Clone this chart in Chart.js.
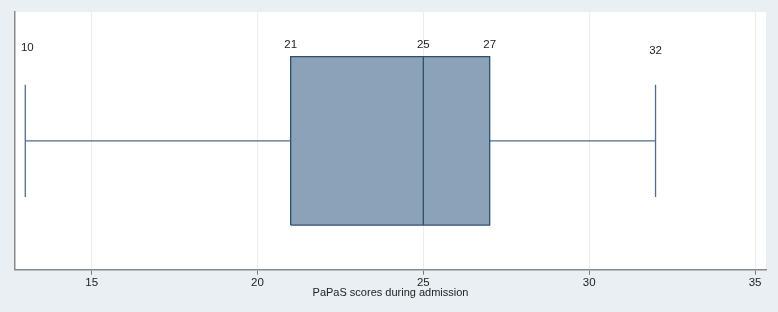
<!DOCTYPE html>
<html>
<head>
<meta charset="utf-8">
<script src="https://cdn.jsdelivr.net/npm/chart.js@4/dist/chart.umd.min.js"></script>
<style>
  html, body { margin: 0; padding: 0; background: #e9eff2; }
  #wrap { width: 778px; height: 312px; }
</style>
</head>
<body>
<div id="wrap"><canvas id="boxplot"></canvas></div>
<script>
// five-number summary as drawn on the plot
const statNames = ["min", "q1", "median", "q3", "max"];
const statValues = [13, 21, 25, 27, 32];
const statLabels = ["10", "21", "25", "27", "32"];
const xTicks = [15, 20, 25, 30, 35];
const axisTitle = "PaPaS scores during admission";

// layout of the box inside the plot (y scale runs 0..1)
const mid = 0.5;
const boxHalf = 0.327;
const capHalf = 0.218;
const labelTop = [47.5, 45, 45, 45, 50.5];

const stat = (n) => statValues[statNames.indexOf(n)];
const lineColor = "#4f6d8b";
const boxBorder = "#2f4f70";
const fontFamily = "'Liberation Sans', Arial, sans-serif";

const lineDs = (pts, color, order) => ({
  data: pts,
  showLine: true,
  borderColor: color,
  borderWidth: 1.3,
  pointRadius: 0,
  fill: false,
  order: order,
});

const labelPlugin = {
  id: "statLabels",
  afterDatasetsDraw(chart) {
    const ctx = chart.ctx;
    const xs = chart.scales.x;
    ctx.save();
    ctx.font = "11.5px " + fontFamily;
    ctx.fillStyle = "#222";
    ctx.textAlign = "center";
    ctx.textBaseline = "middle";
    statValues.forEach((v, i) => {
      ctx.fillText(statLabels[i], xs.getPixelForValue(v) + (i === 0 ? 2 : 0), labelTop[i]);
    });
    ctx.restore();
  },
};

const ctx = document.getElementById("boxplot").getContext("2d");

new Chart(ctx, {
  type: "scatter",
  data: {
    datasets: [
      lineDs([{ x: stat("min"), y: mid }, { x: stat("q1"), y: mid }], lineColor, 2),
      lineDs([{ x: stat("q3"), y: mid }, { x: stat("max"), y: mid }], lineColor, 2),
      lineDs([{ x: stat("min"), y: mid - capHalf }, { x: stat("min"), y: mid + capHalf }], lineColor, 2),
      lineDs([{ x: stat("max"), y: mid - capHalf }, { x: stat("max"), y: mid + capHalf }], lineColor, 2),
      {
        data: [
          { x: stat("q1"), y: mid - boxHalf },
          { x: stat("q1"), y: mid + boxHalf },
          { x: stat("q3"), y: mid + boxHalf },
          { x: stat("q3"), y: mid - boxHalf },
          { x: stat("q1"), y: mid - boxHalf },
        ],
        showLine: true,
        borderColor: boxBorder,
        borderWidth: 1.3,
        backgroundColor: "#8ba2b8",
        pointRadius: 0,
        fill: "shape",
        order: 1,
      },
      // median on top of the box
      lineDs([{ x: stat("median"), y: mid - boxHalf }, { x: stat("median"), y: mid + boxHalf }], boxBorder, 0),
    ],
  },
  options: {
    responsive: true,
    maintainAspectRatio: false,
    animation: false,
    layout: {
      padding: { top: 12, right: 12, left: 15, bottom: 12 },
    },
    plugins: {
      legend: { display: false },
      tooltip: { enabled: false },
    },
    scales: {
      x: {
        type: "linear",
        min: 12.69,
        max: 35.33,
        afterBuildTicks: (scale) => {
          scale.ticks = xTicks.map((v) => ({ value: v }));
        },
        grid: {
          color: "#e8eef1",
          tickColor: "#777",
          tickLength: 5,
        },
        border: { color: "#8a8a8a", width: 1.5 },
        ticks: {
          color: "#222",
          padding: 1,
          font: { family: fontFamily, size: 11.5 },
        },
        title: {
          display: true,
          text: axisTitle,
          color: "#222",
          padding: { top: -3.7, bottom: 0 },
          font: { family: fontFamily, size: 11 },
        },
      },
      y: {
        type: "linear",
        min: 0,
        max: 1,
        ticks: { display: false },
        grid: { display: false, drawTicks: false },
        border: { color: "#8a8a8a", width: 1.5 },
      },
    },
  },
  plugins: [
    {
      id: "plotBg",
      beforeDraw(chart) {
        const a = chart.chartArea;
        chart.ctx.save();
        chart.ctx.fillStyle = "#ffffff";
        chart.ctx.fillRect(a.left, a.top, a.right - a.left, a.bottom - a.top);
        chart.ctx.restore();
      },
    },
    labelPlugin,
  ],
});
</script>
</body>
</html>
